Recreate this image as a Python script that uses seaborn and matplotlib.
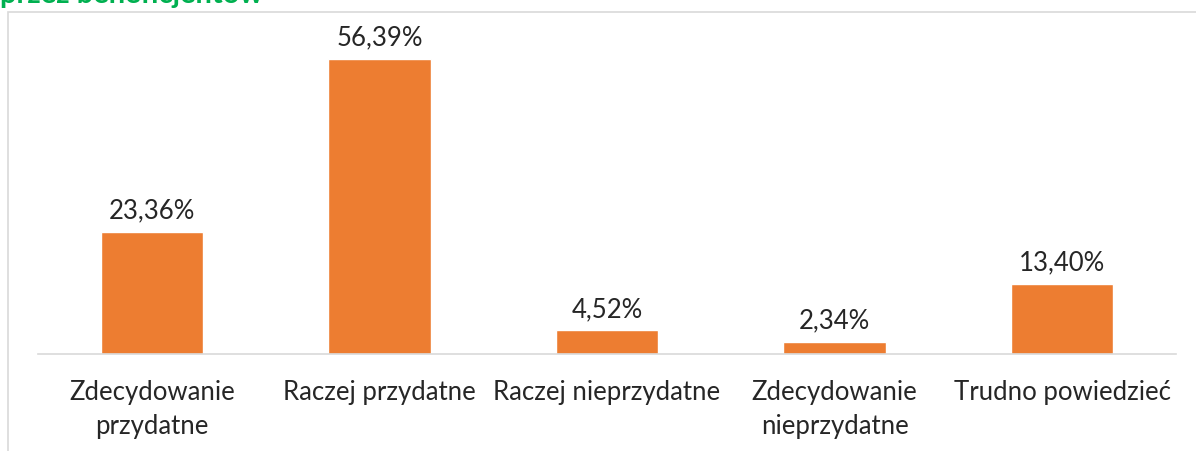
import matplotlib
matplotlib.use("Agg")
import matplotlib.pyplot as plt
import seaborn as sns
import pandas as pd
from matplotlib.patches import Rectangle

# Dane
categories = ["Zdecydowanie\nprzydatne", "Raczej przydatne", "Raczej nieprzydatne",
              "Zdecydowanie\nnieprzydatne", "Trudno powiedzieć"]
values = [23.36, 56.39, 4.52, 2.34, 13.40]
value_labels = ["23,36%", "56,39%", "4,52%", "2,34%", "13,40%"]

df = pd.DataFrame({"kategoria": categories, "procent": values})

sns.set_style("white")
plt.rcParams["font.family"] = ["Lato", "DejaVu Sans"]

fig = plt.figure(figsize=(11.96, 4.51), dpi=100)
ax = fig.add_axes([38 / 1196, 1 - 354 / 451, (1176 - 38) / 1196, (354 - 40) / 451])

sns.barplot(data=df, x="kategoria", y="procent", color="#ED7D31", width=0.45,
            saturation=1, ax=ax)

ax.set_ylim(0, 60)
ax.set_xlim(-0.5, 4.5)
for i, (v, lab) in enumerate(zip(values, value_labels)):
    ax.text(i, v + 1.6, lab, ha="center", va="bottom", fontsize=18.5, color="#262626")

ax.set_xlabel("")
ax.set_ylabel("")
ax.set_yticks([])
ax.tick_params(axis="x", length=0, pad=19, labelsize=18.5, labelcolor="#262626")
for lbl in ax.get_xticklabels():
    lbl.set_linespacing(1.45)
    lbl.set_va("top")
for s in ["top", "right", "left"]:
    ax.spines[s].set_visible(False)
ax.spines["bottom"].set_color("#D9D9D9")
ax.spines["bottom"].set_linewidth(1.2)

# ramka obszaru wykresu
fig.patches.append(Rectangle((8 / 1196, -0.05), 1.1, 1 - 12 / 451 + 0.05,
                             transform=fig.transFigure, fill=False,
                             edgecolor="#D9D9D9", linewidth=1.2))

# ucięty tytuł (w oryginale widoczny tylko dół napisu)
fig.text(0.0, 1 - 3 / 451, "przez beneficjentów", ha="left", va="baseline",
         fontsize=21, fontweight="bold", color="#00B050")

fig.savefig("out.png", dpi=100)
